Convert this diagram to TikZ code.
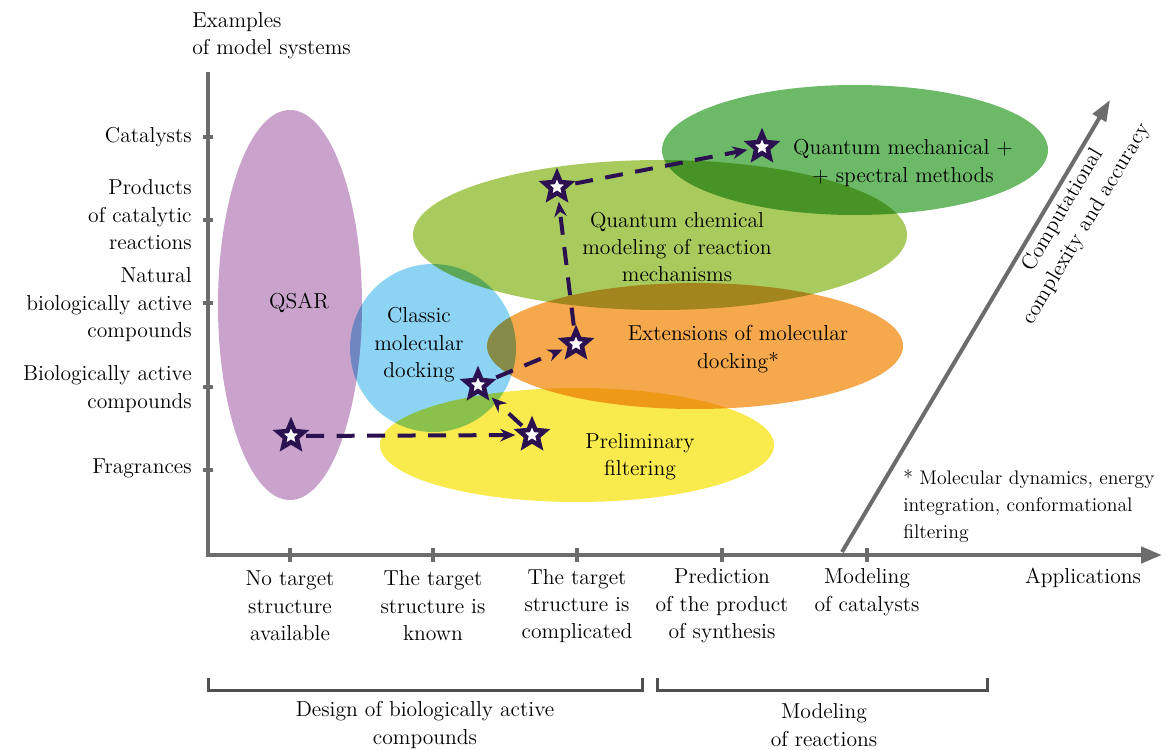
\documentclass[tikz,border=0pt]{standalone}
\usepackage{xcolor}
\usepackage{fontspec}
\usepackage{tikz}
\usetikzlibrary{shapes.geometric,arrows.meta}

\definecolor{axisgrey}{RGB}{108,108,108}
\definecolor{bracketgrey}{RGB}{80,80,80}
\definecolor{starviolet}{RGB}{43,17,80}
\definecolor{qsarcol}{RGB}{201,163,203}
\definecolor{dockcol}{RGB}{141,211,243}
\definecolor{filtercol}{RGB}{249,234,78}
\definecolor{extcol}{RGB}{245,168,76}
\definecolor{qchemcol}{RGB}{169,203,94}
\definecolor{qmechcol}{RGB}{108,185,104}

\begin{document}
\begin{tikzpicture}[x=0.02cm,y=-0.02cm,
  every node/.style={font=\fontsize{12.3}{15.6}\selectfont,inner sep=0pt,align=center},
  pathstar/.style={star,star points=5,star point ratio=2.2,minimum size=0.54cm,
    draw=starviolet,line width=0.09cm,fill=white},
  route/.style={starviolet,line width=0.08cm,dash pattern=on 0.36cm off 0.25cm,
    -{Stealth[length=0.3cm,width=0.25cm]},shorten >=3pt,shorten <=2pt}]
\useasboundingbox (0,0) rectangle (1166,750);

% method areas
\begin{scope}[blend mode=multiply]
\fill[qsarcol]   (290,305) ellipse [x radius=72,  y radius=195];
\fill[dockcol]   (433,348) ellipse [x radius=83,  y radius=84];
\fill[filtercol] (577,445) ellipse [x radius=197, y radius=57];
\fill[extcol]    (695,346) ellipse [x radius=208, y radius=63];
\fill[qchemcol]  (660,235) ellipse [x radius=247, y radius=75];
\fill[qmechcol]  (855,150) ellipse [x radius=193, y radius=65];
\end{scope}

% axes
\draw[axisgrey,line width=0.09cm,-{Triangle[length=0.42cm,width=0.32cm]}]
  (208,72) -- (208,555) -- (1162,555);
\draw[axisgrey,line width=0.08cm,-{Triangle[length=0.42cm,width=0.3cm]}]
  (842,552) -- (1110,100);
\foreach \y in {137,220,303,387,470}
\draw[axisgrey,line width=0.08cm] (203,\y) -- (213,\y);
\foreach \x in {290,433,577,722,867}
\draw[axisgrey,line width=0.08cm] (\x,548) -- (\x,562);

\node[anchor=west,align=left] (ytitle) at (192,36) {Examples\\of model systems};
\node[anchor=east,align=right] (ylab1) at (192,137) {Catalysts};
\node[anchor=east,align=right] (ylab2) at (192,215) {Products\\of catalytic\\reactions};
\node[anchor=east,align=right] (ylab3) at (192,305) {Natural\\biologically active\\compounds};
\node[anchor=east,align=right] (ylab4) at (192,389) {Biologically active\\compounds};
\node[anchor=east,align=right] (ylab5) at (192,468) {Fragrances};

\node (xlab1) at (290,606) {No target\\structure\\available};
\node (xlab2) at (433,606) {The target\\structure is\\known};
\node (xlab3) at (577,606) {The target\\structure is\\complicated};
\node (xlab4) at (722,606) {Prediction\\of the product\\of synthesis};
\node (xlab5) at (867,592) {Modeling\\of catalysts};
\node (xtitle) at (1083,578) {Applications};

\node[rotate=59.2] (ztitle) at (1075,217) {Computational\\complexity and accuracy};
\node[anchor=west,align=left,font=\fontsize{11.2}{15.4}\selectfont] (footnote) at (903,506)
  {* Molecular dynamics, energy\\integration, conformational\\filtering};

% groups of applications
\draw[bracketgrey,line width=0.06cm] (208,678) -- (208,690) -- (642,690) -- (642,678);
\draw[bracketgrey,line width=0.06cm] (657,678) -- (657,690) -- (987,690) -- (987,678);
\node (design) at (425,725) {Design of biologically active\\compounds};
\node (reactions) at (824,725) {Modeling\\of reactions};

% labels of the areas
\node (qsar) at (299,303) {QSAR};
\node (docking) at (419,345) {Classic\\molecular\\docking};
\node (filtering) at (640,457) {Preliminary\\filtering};
\node (extension) at (738,349) {Extensions of molecular\\docking*};
\node (qchem) at (677,247) {Quantum chemical\\modeling of reaction\\mechanisms};
\node (qmech) at (903,163) {Quantum mechanical +\\+ spectral methods};

% path through the methods
\node[pathstar] (qsarstar)   at (291,436) {};
\node[pathstar] (filterstar) at (532,435) {};
\node[pathstar] (dockstar)   at (478,385) {};
\node[pathstar] (extstar)    at (576,344) {};
\node[pathstar] (qchemstar)  at (557,187) {};
\node[pathstar] (qmechstar)  at (762,147) {};

\draw[route] (qsarstar) -- (filterstar);
\draw[route] (filterstar) -- (dockstar);
\draw[route] (dockstar) -- (extstar);
\draw[route] (extstar) -- (qchemstar);
\draw[route] (qchemstar) -- (qmechstar);
\end{tikzpicture}
\end{document}
